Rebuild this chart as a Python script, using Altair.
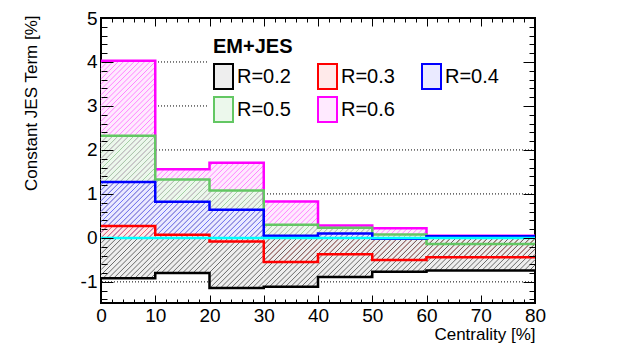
import math
import altair as alt
import pandas as pd

# ---------------- data ----------------
bin_lo = [0, 10, 20, 30, 40, 50, 60]
bin_hi = [10, 20, 30, 40, 50, 60, 80]
series = ["R=0.2", "R=0.3", "R=0.4", "R=0.5", "R=0.6"]
r02 = [-0.92, -0.80, -1.14, -1.11, -0.89, -0.77, -0.74]
r03 = [0.27, 0.07, -0.08, -0.55, -0.37, -0.50, -0.44]
r04 = [1.27, 0.82, 0.64, 0.05, 0.10, -0.02, 0.04]
r05 = [2.32, 1.33, 1.08, 0.30, 0.23, 0.08, -0.14]
r06 = [4.03, 1.56, 1.71, 0.83, 0.28, 0.22, 0.05]
values = {"R=0.2": r02, "R=0.3": r03, "R=0.4": r04, "R=0.5": r05, "R=0.6": r06}

x_major = [0, 10, 20, 30, 40, 50, 60, 70, 80]
x_minor = [v for v in range(0, 81, 2) if v % 10 != 0]
y_major = [-1, 0, 1, 2, 3, 4, 5]
y_minor = [round(-1.4 + 0.2 * i, 1) for i in range(32) if abs(round(-1.4 + 0.2 * i, 1) - round(-1.4 + 0.2 * i)) > 1e-6]
grid_values = [-1, 0, 1, 2]
# grid lines hidden by the legend box: they only show up to this centrality
short_grid_values = [3, 4]
short_grid_end = 19.7

# ---------------- style ----------------
line_colors = ["#000000", "#ff0000", "#0000ff", "#63c763", "#ff00ff"]
hatch_colors = ["#5a5a5a", "#ff6a6a", "#6a6aff", "#98d898", "#ff78ff"]
tint_colors = ["#eeeeee", "#ffeaea", "#eaeaff", "#ecf8ec", "#ffeaff"]
FONT = "Liberation Sans"
W, H = 434, 285
XDOM = [0, 80]
YDOM = [-1.48, 5]
draw_order = ["R=0.6", "R=0.5", "R=0.4", "R=0.3", "R=0.2"]

xscale = alt.Scale(domain=XDOM, nice=False, zero=False)
yscale = alt.Scale(domain=YDOM, nice=False, zero=False)

# ---------------- derived tables ----------------
rect_rows, step_rows, hatch_rows = [], [], []
sx = W / (XDOM[1] - XDOM[0])
sy = H / (YDOM[1] - YDOM[0])
sp = 5.3  # hatch spacing in px (horizontal)
for s in draw_order:
    vals = values[s]
    for lo, hi, v in zip(bin_lo, bin_hi, vals):
        rect_rows.append({"series": s, "x": lo, "x2": hi, "y": v, "y2": 0.0})
        X0, X1 = lo * sx, hi * sx
        Ya, Yb = min(0.0, v) * sy, max(0.0, v) * sy
        kmin = math.ceil((X0 - Yb) / sp)
        kmax = math.floor((X1 - Ya) / sp)
        for k in range(kmin, kmax + 1):
            c = k * sp
            ylo = max(Ya, X0 - c)
            yhi = min(Yb, X1 - c)
            if yhi - ylo > 0.3:
                hatch_rows.append({"series": s,
                                   "x": (c + ylo) / sx, "y": ylo / sy,
                                   "x2": (c + yhi) / sx, "y2": yhi / sy})
    for lo, v in zip(bin_lo, vals):
        step_rows.append({"series": s, "x": lo, "y": v})
    step_rows.append({"series": s, "x": bin_hi[-1], "y": vals[-1]})

rect_df = pd.DataFrame(rect_rows)
step_df = pd.DataFrame(step_rows)
hatch_df = pd.DataFrame(hatch_rows)
grid_df = pd.DataFrame({"y": grid_values})
short_rows = []
for g in short_grid_values:
    short_rows.append({"g": g, "x": XDOM[0], "y": g})
    short_rows.append({"g": g, "x": short_grid_end, "y": g})
short_df = pd.DataFrame(short_rows)

legend_kw = dict(
    title="EM+JES", orient="none", legendX=109, legendY=15.5, columns=3,
    direction="horizontal",
    titleFontSize=20, titleFontWeight="bold", titleFont=FONT, titleColor="black",
    titlePadding=6.5, titleAlign="left",
    labelFont=FONT, labelFontSize=20, labelColor="black", labelOffset=0, labelLimit=400,
    symbolType="M-0.76,-1H0.76V1H-0.76Z", symbolSize=625, symbolStrokeWidth=2,
    symbolOffset=-3,
    symbolOpacity=1, columnPadding=23, rowPadding=0, padding=3,
    gridAlign="each", zindex=1,
)

# ---------------- layers ----------------
grid_rules = alt.Chart(grid_df).mark_rule(
    color="black", strokeWidth=1, strokeDash=[1, 2]
).encode(y=alt.Y("y:Q", scale=yscale, axis=None))

short_grid = alt.Chart(short_df).mark_line(
    color="black", strokeWidth=1, strokeDash=[1, 2]
).encode(
    x=alt.X("x:Q", scale=xscale, axis=None),
    y=alt.Y("y:Q", scale=yscale, axis=None),
    detail="g:N",
)

tint = alt.Chart(rect_df).mark_rect().encode(
    x=alt.X("x:Q", scale=xscale, axis=None), x2="x2:Q",
    y=alt.Y("y:Q", scale=yscale, axis=None), y2="y2:Q",
    fill=alt.Fill("series:N", scale=alt.Scale(domain=series, range=tint_colors),
                  legend=alt.Legend(**legend_kw)),
    stroke=alt.Stroke("series:N", scale=alt.Scale(domain=series, range=line_colors),
                      legend=alt.Legend(**legend_kw)),
    strokeOpacity=alt.value(0),
)

hatch = alt.Chart(hatch_df).mark_rule(strokeWidth=0.9).encode(
    x=alt.X("x:Q", scale=xscale, axis=None), x2="x2:Q",
    y=alt.Y("y:Q", scale=yscale, axis=None), y2="y2:Q",
    color=alt.Color("series:N", scale=alt.Scale(domain=series, range=hatch_colors), legend=None),
)

steps = alt.Chart(step_df).mark_line(interpolate="step-after", strokeWidth=2.5).encode(
    x=alt.X("x:Q", scale=xscale, axis=None),
    y=alt.Y("y:Q", scale=yscale, axis=None),
    stroke=alt.Stroke("series:N", scale=alt.Scale(domain=series, range=line_colors), legend=None),
    detail="series:N",
)

zero_line = alt.Chart(pd.DataFrame({"y": [0.0]})).mark_rule(color="#00ffff", strokeWidth=2.5).encode(
    y=alt.Y("y:Q", scale=yscale, axis=None)
)

common_axis = dict(domain=False, grid=False, tickColor="black", tickWidth=1,
                   labelFont=FONT, labelColor="black", titleFont=FONT, titleColor="black")


def xaxis(vals, **kw):
    args = dict(common_axis)
    args.update(kw)
    return alt.Chart(pd.DataFrame({"v": vals})).mark_point(opacity=0).encode(
        x=alt.X("v:Q", scale=xscale, axis=alt.Axis(**args)))


def yaxis(vals, **kw):
    args = dict(common_axis)
    args.update(kw)
    return alt.Chart(pd.DataFrame({"v": vals})).mark_point(opacity=0).encode(
        y=alt.Y("v:Q", scale=yscale, axis=alt.Axis(**args)))


x_bot_major = xaxis(x_major, orient="bottom", values=x_major, tickSize=8, offset=-8,
                    labels=True, labelFontSize=19, labelPadding=3, labelFlush=False,
                    labelOverlap=False, title="Centrality [%]", titleFontSize=17,
                    titleFontWeight="normal", titleX=W, titleY=44, titleAlign="right",
                    titleBaseline="alphabetic", zindex=2)
x_bot_minor = xaxis(x_minor, orient="bottom", values=x_minor, tickSize=4, offset=-4,
                    labels=False, title=None, zindex=2)
x_top_major = xaxis(x_major, orient="top", values=x_major, tickSize=8, offset=-8,
                    labels=False, title=None, zindex=2)
x_top_minor = xaxis(x_minor, orient="top", values=x_minor, tickSize=4, offset=-4,
                    labels=False, title=None, zindex=2)

y_left_major = yaxis(y_major, orient="left", values=y_major, tickSize=12, offset=-12,
                     labels=True, labelFontSize=19, labelPadding=4, labelFlush=False,
                     labelOverlap=False, labelExpr="'' + datum.value",
                     title="Constant JES Term [%]", titleFontSize=17, titleFontWeight="normal",
                     titleAngle=270, titleX=-76.5, titleY=-3, titleAlign="right",
                     titleBaseline="alphabetic", zindex=2)
y_left_minor = yaxis(y_minor, orient="left", values=y_minor, tickSize=6, offset=-6,
                     labels=False, title=None, zindex=2)
y_right_major = yaxis(y_major, orient="right", values=y_major, tickSize=12, offset=-12,
                      labels=False, title=None, zindex=2)
y_right_minor = yaxis(y_minor, orient="right", values=y_minor, tickSize=6, offset=-6,
                      labels=False, title=None, zindex=2)

chart = alt.layer(
    grid_rules, short_grid, tint, hatch, steps, zero_line,
    x_bot_major, x_bot_minor, x_top_major, x_top_minor,
    y_left_major, y_left_minor, y_right_major, y_right_minor,
).resolve_axis(x="independent", y="independent").properties(
    width=W, height=H,
    autosize=alt.AutoSizeParams(type="none"),
    padding={"left": 93, "top": 10, "right": 25, "bottom": 52},
    background="white",
).configure_view(stroke="black", strokeWidth=2)

chart.save("out.html", embed_options={"renderer": "svg", "actions": False})
